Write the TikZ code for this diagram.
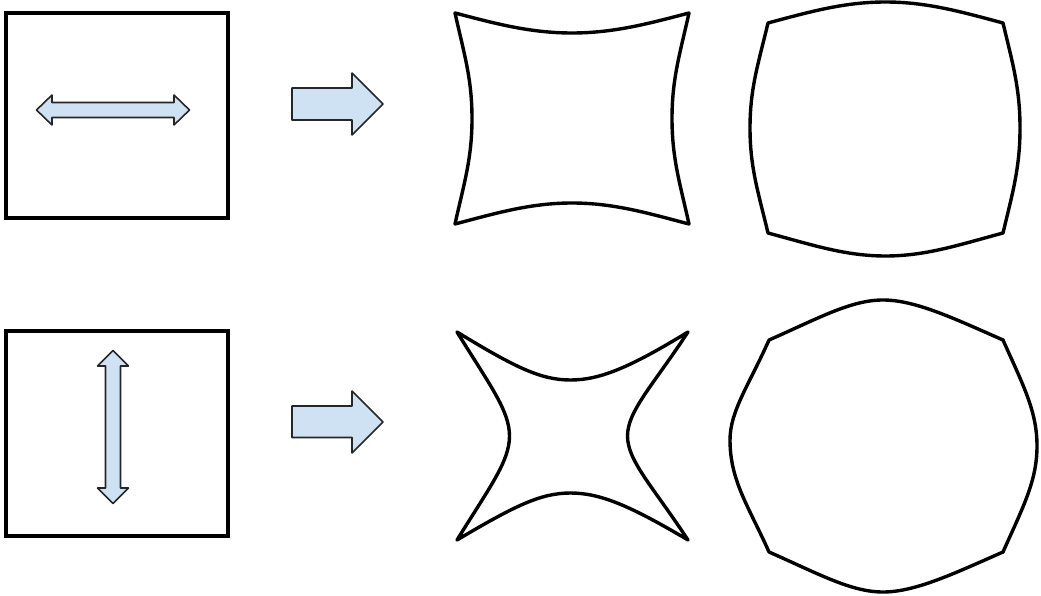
\documentclass[tikz,border=0pt]{standalone}
\usepackage{tikz}
\definecolor{arrowblue}{RGB}{207,226,243}
\tikzset{
  frame/.style={draw=black, line width=3.4pt},
  lens/.style={draw=black, line width=3.4pt, line join=round},
  bluearrow/.style={draw=black!85, fill=arrowblue, line width=1.6pt, line join=round}
}

\begin{document}
\begin{tikzpicture}[x=1pt, y=-1pt]
	\useasboundingbox (0,0) rectangle (1041,596);
	
	\coordinate (PinA) at (572,118.5);
	\coordinate (BarA) at (885.5,128);
	\coordinate (PinB) at (572.5,436);
	\coordinate (BarB) at (886,446);
	
	% object squares
	\draw[frame] (6,13) rectangle (228,218);
	\draw[frame] (6,331) rectangle (228,536);
	
	% stretch directions
	\draw[bluearrow] (36.5,110) -- (52,95) -- (52,102.5) -- (174,102.5) -- (174,95) -- (189.5,110)
		-- (174,125) -- (174,117.5) -- (52,117.5) -- (52,125) -- cycle;
	\draw[bluearrow] (113,350.5) -- (128.5,366) -- (120.5,366) -- (120.5,488) -- (128.5,488) -- (113,503.5)
		-- (97.5,488) -- (105.5,488) -- (105.5,366) -- (97.5,366) -- cycle;
	
	% block arrows
	\draw[bluearrow] (292,88) -- (352,88) -- (352,73) -- (383,104) -- (352,135) -- (352,120) -- (292,120) -- cycle;
	\draw[bluearrow] (292,406) -- (352,406) -- (352,391) -- (383,422) -- (352,453) -- (352,437.5) -- (292,437.5) -- cycle;
	
	% pincushion, top
	\draw[lens, shift={(PinA)}] (-117,-105.5) .. controls (-77,-95) and (-42,-85.5) .. (0,-85.5)
		.. controls (42,-85.5) and (77,-95) .. (117,-105.5)
		.. controls (108,-65) and (100,-40) .. (100,0) .. controls (100,40) and (108,65) .. (117,105.5)
		.. controls (77,95) and (42,84.5) .. (0,84.5) .. controls (-42,84.5) and (-77,95) .. (-117,105.5)
		.. controls (-108,65) and (-100,40) .. (-100,0) .. controls (-100,-40) and (-108,-65) .. (-117,-105.5) -- cycle;
	
	% barrel, top
	\draw[lens, shift={(BarA)}] (-117.5,-105) .. controls (-73,-117) and (-40,-126) .. (0,-126)
		.. controls (40,-126) and (73,-117) .. (117.5,-105)
		.. controls (127,-65) and (134.5,-40) .. (134.5,0) .. controls (134.5,40) and (127,65) .. (117.5,105)
		.. controls (73,117) and (40,128) .. (0,128) .. controls (-40,128) and (-73,117) .. (-117.5,105)
		.. controls (-127,65) and (-135.5,40) .. (-135.5,0) .. controls (-135.5,-40) and (-127,-65) .. (-117.5,-105) -- cycle;
	
	% pincushion, bottom
	\draw[lens, shift={(PinB)}] (-115.5,-104) .. controls (-58,-69) and (-32,-56) .. (-2,-56)
		.. controls (28,-56) and (58,-69) .. (115.5,-104)
		.. controls (80,-50) and (55,-25) .. (55,0) .. controls (55,25) and (80,50) .. (115.5,104)
		.. controls (58,70) and (28,57) .. (-2,57) .. controls (-32,57) and (-58,70) .. (-115.5,104)
		.. controls (-82,50) and (-63,25) .. (-63,0) .. controls (-63,-25) and (-82,-50) .. (-115.5,-104) -- cycle;
	
	% barrel, bottom
	\draw[lens, shift={(BarB)}] (-117,-106) .. controls (-67,-128) and (-35,-146) .. (-3,-146)
		.. controls (29,-146) and (67,-128) .. (117,-106)
		.. controls (137,-61) and (151,-35) .. (151,0) .. controls (151,35) and (137,61) .. (117,106)
		.. controls (67,128) and (29,146) .. (-3,146) .. controls (-35,146) and (-67,128) .. (-117,106)
		.. controls (-137,61) and (-156,35) .. (-156,-6) .. controls (-156,-35) and (-137,-61) .. (-117,-106) -- cycle;
\end{tikzpicture}
\end{document}
